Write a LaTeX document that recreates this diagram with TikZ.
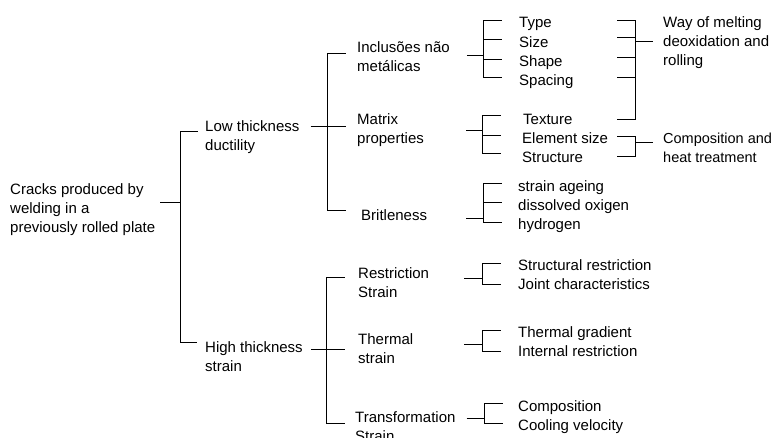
\documentclass[tikz,border=0pt]{standalone}
\usepackage{fontspec}
\setmainfont{Liberation Sans}
\usetikzlibrary{calc}

\begin{document}
\begin{tikzpicture}
[
    x=1pt, y=-1pt,
    every node/.style={anchor=base west, inner sep=0pt, align=left, font=\fontsize{15}{19}\selectfont},
    link/.style={line width=1pt},
]
\useasboundingbox (0,0) rectangle (774,438);

% texts (multi-line nodes sit on their last line)
\node (crack) at (10,233) {Cracks produced by\\welding in a\\previously rolled plate};
\node (low) at (205,151) {Low thickness\\ductility};
\node (high) at (205,371) {High thickness\\strain};
\node (incl) at (357,72) {Inclusões não\\metálicas};
\node (matrix) at (357,143.5) {Matrix\\properties};
\node (brit) at (361,221) {Britleness};
\node (restr) at (358,298) {Restriction\\Strain};
\node (therm) at (358,363.5) {Thermal\\strain};
\node (transf) at (355,441.5) {Transformation\\Strain};
\node (type) at (519,28) {Type};
\node (size) at (519,47.5) {Size};
\node (shape) at (519,67) {Shape};
\node (spacing) at (519,86) {Spacing};
\node (texture) at (523,124.3) {Texture};
\node (elsize) at (522,143.3) {Element size};
\node (struct) at (522,162.7) {Structure};
\node (ageing) at (518,191.5) {strain ageing};
\node (oxigen) at (518,210.5) {dissolved oxigen};
\node (hydrogen) at (518,229.5) {hydrogen};
\node (structr) at (518,270.7) {Structural restriction};
\node (joint) at (518,289.7) {Joint characteristics};
\node (gradient) at (518,337.3) {Thermal gradient};
\node (internal) at (518,356.3) {Internal restriction};
\node (compo) at (518,411) {Composition};
\node (cooling) at (518,430) {Cooling velocity};
\node (way) at (663,65.3) {Way of melting\\deoxidation and\\rolling};
\node[font=\fontsize{14.5}{19}\selectfont] (compheat) at (663,163) {Composition and\\heat treatment};

% junctions
\coordinate (jCrack) at (180,203);
\coordinate (jLow) at (327,127);
\coordinate (jHigh) at (326,350);
\coordinate (jIncl) at (483,56);
\coordinate (jMatrix) at (482,131);
\coordinate (jBrit) at (483,219);
\coordinate (jRestr) at (482,279);
\coordinate (jTherm) at (482,345);
\coordinate (jTransf) at (484,418);
\coordinate (jWay) at (635,42);
\coordinate (jComp) at (635,143);
\coordinate (rightL) at (617,0);

% root
\draw[link, shorten <=5pt] (crack.east |- jCrack) -- (jCrack);
\draw[link, shorten >=7pt] (jCrack) |- ($(low.base west)+(0,-19)$);
\draw[link, shorten >=8pt] (jCrack) |- ($(high.base west)+(0,-28)$);

% low thickness
\draw[link, shorten <=11pt] (low.east |- jLow) -- (jLow);
\draw[link, shorten >=11pt] (jLow) |- ($(incl.base west)+(0,-18)$);
\draw[link, shorten >=11pt] (jLow) |- ($(matrix.base west)+(0,-16.5)$);
\draw[link, shorten >=15pt] (jLow) |- ($(brit.base west)+(0,-10)$);

% high thickness
\draw[link, shorten <=8.5pt] (high.east |- jHigh) -- (jHigh);
\draw[link, shorten >=13pt] (jHigh) |- ($(restr.base west)+(0,-20)$);
\draw[link, shorten >=13pt] (jHigh) |- ($(therm.base west)+(0,-13.5)$);
\draw[link, shorten >=10pt] (jHigh) |- ($(transf.base west)+(0,-18.5)$);

% inclusions
\draw[link, shorten <=17pt] (incl.east |- jIncl) -- (jIncl);
\draw[link, shorten >=17pt] (jIncl) |- ($(type.base west)+(0,-7)$);
\draw[link, shorten >=17pt] (jIncl) |- ($(size.base west)+(0,-7.5)$);
\draw[link, shorten >=17pt] (jIncl) |- ($(shape.base west)+(0,-7)$);
\draw[link, shorten >=17pt] (jIncl) |- ($(spacing.base west)+(0,-8)$);

% matrix
\draw[link, shorten <=42pt] (matrix.east |- jMatrix) -- (jMatrix);
\draw[link, shorten >=22pt] (jMatrix) |- ($(texture.base west)+(0,-8.3)$);
\draw[link, shorten >=21pt] (jMatrix) |- ($(elsize.base west)+(0,-7.3)$);
\draw[link, shorten >=21pt] (jMatrix) |- ($(struct.base west)+(0,-8.7)$);

% britleness
\draw[link, shorten <=39pt] (brit.east |- jBrit) -- (jBrit);
\draw[link, shorten >=16pt] (jBrit) |- ($(ageing.base west)+(0,-7.5)$);
\draw[link, shorten >=16pt] (jBrit) |- ($(oxigen.base west)+(0,-7.5)$);
\draw[link, shorten >=16pt] (jBrit) |- ($(hydrogen.base west)+(0,-6.5)$);

% restriction
\draw[link, shorten <=35pt] (restr.east |- jRestr) -- (jRestr);
\draw[link, shorten >=17pt] (jRestr) |- ($(structr.base west)+(0,-6.7)$);
\draw[link, shorten >=17pt] (jRestr) |- ($(joint.base west)+(0,-4.7)$);

% thermal
\draw[link, shorten <=51pt] (therm.east |- jTherm) -- (jTherm);
\draw[link, shorten >=17pt] (jTherm) |- ($(gradient.base west)+(0,-6.3)$);
\draw[link, shorten >=17pt] (jTherm) |- ($(internal.base west)+(0,-4.3)$);

% transformation
\draw[link, shorten <=11pt] (transf.east |- jTransf) -- (jTransf);
\draw[link, shorten >=15pt] (jTransf) |- ($(compo.base west)+(0,-8)$);
\draw[link, shorten >=15pt] (jTransf) |- ($(cooling.base west)+(0,-7)$);

% way of melting
\draw[link] ($(rightL |- type.base)+(0,-7)$) -| (jWay);
\draw[link] ($(rightL |- size.base)+(0,-9.5)$) -| (jWay);
\draw[link] ($(rightL |- shape.base)+(0,-9)$) -| (jWay);
\draw[link] ($(rightL |- spacing.base)+(0,-8)$) -| (jWay);
\draw[link] ($(rightL |- texture.base)+(0,-4.3)$) -| (jWay);
\draw[link, shorten >=10pt] (jWay) -- (way.west |- jWay);

% composition and heat treatment
\draw[link] ($(rightL |- elsize.base)+(0,-6.3)$) -| (jComp);
\draw[link] ($(rightL |- struct.base)+(0,-5.7)$) -| (jComp);
\draw[link, shorten >=10pt] (jComp) -- (compheat.west |- jComp);
\end{tikzpicture}
\end{document}
